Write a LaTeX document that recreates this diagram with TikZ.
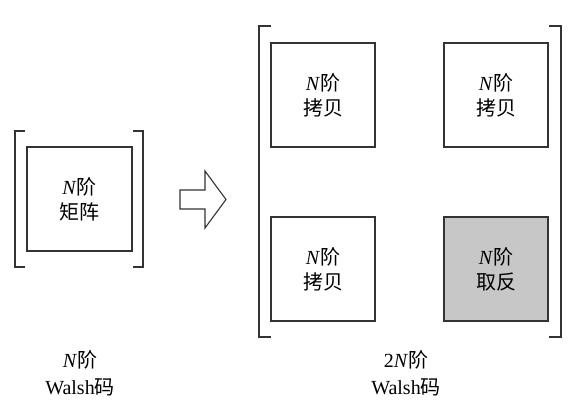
\documentclass[tikz,border=0pt]{standalone}
\usepackage{fontspec}
\setmainfont{Liberation Serif}
\newfontfamily\cjk{Noto Sans CJK SC}
\begin{document}
\begin{tikzpicture}[x=1pt,y=-1pt,
  line/.style={draw=black!80,line width=1.1pt},
  blk/.style={line,minimum width=104pt,minimum height=104pt,inner sep=0pt,align=center,
    font=\fontsize{20}{25}\selectfont},
  neg/.style={blk,fill=black!22},
  lbl/.style={align=center,font=\fontsize{20}{27}\selectfont}]
\useasboundingbox (0,0) rectangle (577,408);
% left part
\node[blk,minimum width=105pt] (m) at (79.5,199) {\textit{N}{\cjk 阶}\\{\cjk 矩阵}};
\draw[line] (25,131) -- (15,131) -- (15,267) -- (25,267);
\draw[line] (133,131) -- (143,131) -- (143,267) -- (133,267);
% arrow
\draw[line,line join=miter] (180,190) -- (205,190) -- (205,171) -- (226,199.5) -- (205,228) -- (205,209) -- (180,209) -- cycle;
% right part
\node[blk] (a) at (323,95) {\textit{N}{\cjk 阶}\\{\cjk 拷贝}};
\node[blk] (b) at (496,95) {\textit{N}{\cjk 阶}\\{\cjk 拷贝}};
\node[blk] (c) at (323,269) {\textit{N}{\cjk 阶}\\{\cjk 拷贝}};
\node[neg] (d) at (496,269) {\textit{N}{\cjk 阶}\\{\cjk 取反}};
\draw[line] (271,26) -- (259,26) -- (259,337) -- (271,337);
\draw[line] (549,26) -- (561,26) -- (561,337) -- (549,337);
% labels
\node[lbl] (l1) at (80,373) {\textit{N}{\cjk 阶}\\Walsh{\cjk 码}};
\node[lbl] (l2) at (406,373) {2\textit{N}{\cjk 阶}\\Walsh{\cjk 码}};
\end{tikzpicture}
\end{document}
